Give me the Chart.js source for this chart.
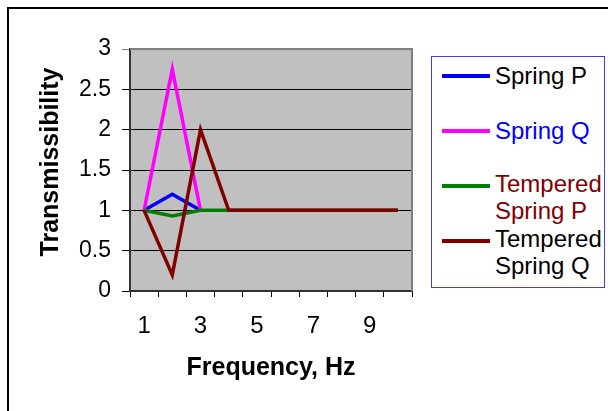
<!DOCTYPE html>
<html>
<head>
<meta charset="utf-8">
<script src="https://cdn.jsdelivr.net/npm/chart.js@4/dist/chart.umd.min.js"></script>
<style>
  html, body { margin: 0; padding: 0; background: #fff; }
  #wrap { position: relative; width: 608px; height: 411px; overflow: hidden; background: #fff; }
  #c { position: absolute; left: 0; top: 0; }
  #frame { position: absolute; left: 7px; top: 7px; width: 800px; height: 600px; border: 2px solid #000; pointer-events: none; }
  #legend { position: absolute; left: 431px; top: 56px; width: 172px; height: 230px; border: 1px solid #3b3bff; background: #fff;
            font-family: "Liberation Sans", Arial, sans-serif; font-size: 24px; }
  .sw { position: absolute; left: 10px; width: 48px; height: 4px; }
  .tx { position: absolute; left: 63px; line-height: 27px; white-space: nowrap; }
</style>
</head>
<body>
<div id="wrap">
  <canvas id="c" width="608" height="411"></canvas>
  <div id="frame"></div>
  <div id="legend"></div>
</div>
<script>
const categories = ['1', '2', '3', '4', '5', '6', '7', '8', '9', '10'];
const springP    = [1, 1.2, 1, null, null, null, null, null, null, null];
const springQ    = [1, 2.75, 1, null, null, null, null, null, null, null];
const temperedP  = [1, 0.93, 1, 1, 1, 1, 1, 1, 1, 1];
const temperedQ  = [1, 0.2, 2, 1, 1, 1, 1, 1, 1, 1];
const yTicks = { min: 0, max: 3, step: 0.5 };
const seriesNames = [['Spring P'], ['Spring Q'], ['Tempered', 'Spring P'], ['Tempered', 'Spring Q']];
const seriesColors = ['#0000ff', '#ff00ff', '#008000', '#800000'];
const labelColors = ['#000000', '#0000ff', '#800000', '#000000'];

const FONT = '"Liberation Sans", Arial, sans-serif';

const plotBg = {
  id: 'plotBg',
  beforeDraw(chart) {
    const { ctx, chartArea: a } = chart;
    ctx.save();
    ctx.fillStyle = '#c0c0c0';
    ctx.fillRect(a.left, a.top, a.right - a.left, a.bottom - a.top);
    ctx.restore();
  },
  afterDraw(chart) {
    const { ctx, chartArea: a } = chart;
    ctx.save();
    ctx.strokeStyle = '#808080';
    ctx.lineWidth = 2;
    ctx.beginPath();
    ctx.moveTo(a.left, a.top);
    ctx.lineTo(a.right, a.top);
    ctx.lineTo(a.right, a.bottom);
    ctx.stroke();
    // y axis title
    ctx.translate(51, 162);
    ctx.rotate(-Math.PI / 2);
    ctx.fillStyle = '#000';
    ctx.font = 'bold 25px ' + FONT;
    ctx.textAlign = 'center';
    ctx.textBaseline = 'middle';
    ctx.fillText('Transmissibility', 0, 0);
    ctx.restore();
  }
};

const data = [springP, springQ, temperedP, temperedQ];
const datasets = data.map((d, i) => ({
  label: seriesNames[i].join(' '),
  data: d,
  borderColor: seriesColors[i],
  backgroundColor: seriesColors[i],
  borderWidth: 3.5,
  pointRadius: 0,
  tension: 0,
  fill: false,
  spanGaps: false,
  order: 4 - i
}));

new Chart(document.getElementById('c'), {
  type: 'line',
  data: { labels: categories, datasets },
  plugins: [plotBg],
  options: {
    responsive: false,
    devicePixelRatio: 1,
    animation: false,
    layout: { padding: { left: 0, top: 49, right: 196, bottom: 0 } },
    plugins: { legend: { display: false }, tooltip: { enabled: false } },
    scales: {
      x: {
        type: 'category',
        offset: true,
        afterFit(s) { s.height = 120; },
        grid: { offset: true, drawOnChartArea: false, drawTicks: true, tickLength: 6, color: '#000', lineWidth: 1 },
        border: { display: true, color: '#333', width: 2 },
        ticks: {
          autoSkip: false, maxRotation: 0, minRotation: 0, padding: 15,
          color: '#000', font: { family: FONT, size: 24 },
          callback: (v, i) => (i % 2 === 0 ? categories[i] : '')
        },
        title: { display: true, text: 'Frequency, Hz', color: '#000', font: { family: FONT, size: 25, weight: 'bold' }, padding: { top: 0, bottom: 28 } }
      },
      y: {
        min: yTicks.min, max: yTicks.max,
        afterFit(s) { s.width = 130; },
        grid: {
          drawOnChartArea: true, drawTicks: true, tickLength: 8, lineWidth: 1,
          color: (c) => (c.tick && c.tick.value === yTicks.max ? '#808080' : '#000')
        },
        border: { display: true, color: '#333', width: 2 },
        ticks: {
          stepSize: yTicks.step, padding: 11, color: '#000', font: { family: FONT, size: 23 },
          callback: (v) => String(v)
        }
      }
    }
  }
});

// HTML legend
const legend = document.getElementById('legend');
const rowTops = [5, 60, 115, 170];
const swatchY = [17, 72, 127, 182];
seriesNames.forEach((lines, i) => {
  const sw = document.createElement('div');
  sw.className = 'sw';
  sw.style.top = swatchY[i] + 'px';
  sw.style.background = seriesColors[i];
  legend.appendChild(sw);
  const tx = document.createElement('div');
  tx.className = 'tx';
  tx.style.top = (lines.length > 1 ? rowTops[i] - 2 : rowTops[i]) + 'px';
  tx.style.color = labelColors[i];
  tx.innerHTML = lines.join('<br>');
  legend.appendChild(tx);
});
</script>
</body>
</html>
